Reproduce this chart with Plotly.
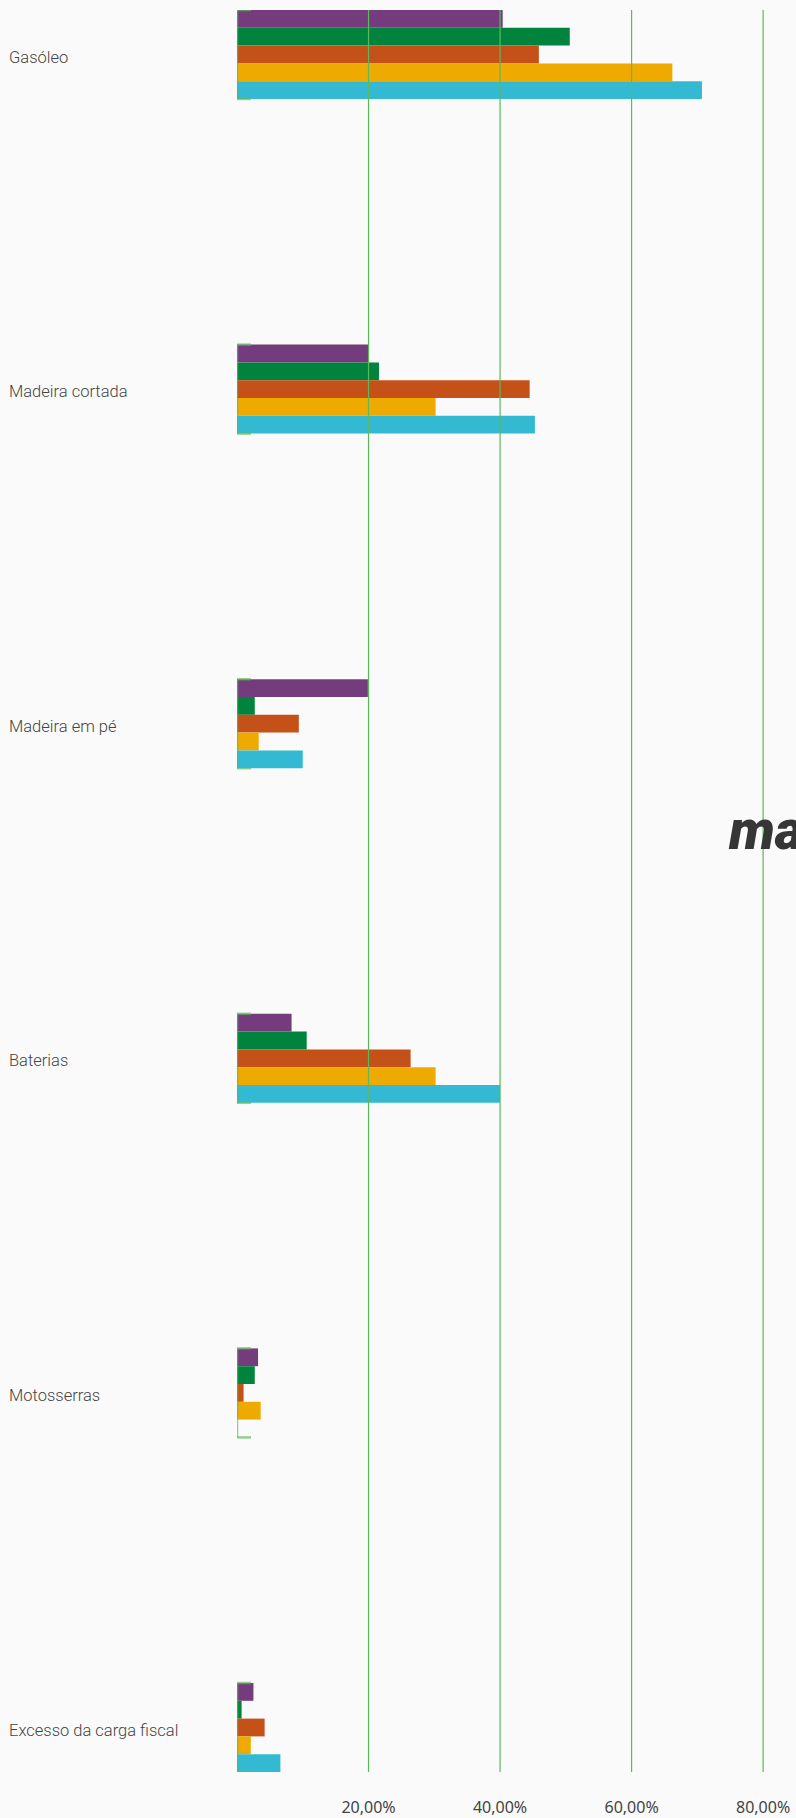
import plotly.graph_objects as go

# Categories (top to bottom) and the five series, values in %
categories = ["Gasóleo", "Madeira cortada", "Madeira em pé", "Baterias", "Motosserras", "Excesso da carga fiscal"]
serie_1 = [40.4, 20.0, 19.9, 8.3, 3.2, 2.5]
serie_2 = [50.6, 21.6, 2.7, 10.6, 2.7, 0.7]
serie_3 = [45.9, 44.5, 9.4, 26.4, 1.0, 4.2]
serie_4 = [66.2, 30.2, 3.3, 30.2, 3.6, 2.1]
serie_5 = [70.7, 45.3, 10.0, 40.0, 0.0, 6.6]
series = [serie_1, serie_2, serie_3, serie_4, serie_5]
colors = ["#743c7c", "#00843d", "#c45117", "#eeaa00", "#33bad2"]

tick_vals = [20, 40, 60, 80]
tick_text = ["20,00%", "40,00%", "60,00%", "80,00%"]

BARGAP = 0.734
half_group = (1 - BARGAP) / 2
n = len(categories)

fig = go.Figure()
for vals, col in zip(series, colors):
    fig.add_trace(go.Bar(
        x=vals, y=categories, orientation="h",
        marker=dict(color=col, line=dict(width=0)),
        hoverinfo="skip",
    ))

shapes = []
# vertical grid lines drawn over the bars
for tv in tick_vals:
    shapes.append(dict(type="line", xref="x", yref="paper", x0=tv, x1=tv, y0=0, y1=1,
                       line=dict(color="#5db95d", width=1.2), layer="above"))
# bracket at the baseline of each group
br = dict(color="rgba(92,184,92,0.65)", width=2.5)
for i in range(n):
    y0, y1 = i - half_group, i + half_group
    shapes.append(dict(type="line", xref="x", yref="y", x0=0, x1=0, y0=y0, y1=y1,
                       line=br, layer="above"))
    for yy in (y0, y1):
        shapes.append(dict(type="line", xref="x", yref="y", xsizemode="pixel", xanchor=0,
                           x0=0, x1=14, y0=yy, y1=yy, line=br, layer="above"))

annotations = []
for cat in categories:
    annotations.append(dict(
        text=cat, xref="paper", yref="y", x=-230 / 559, y=cat, yshift=-2.5,
        xanchor="left", yanchor="middle", showarrow=False,
        font=dict(family="Roboto, sans-serif", size=16.5, color="#444444", weight=300),
    ))
annotations.append(dict(
    text="ma", xref="paper", yref="paper", x=0.874, y=0.5345,
    xanchor="left", yanchor="middle", showarrow=False,
    font=dict(family="Roboto, sans-serif", size=55, color="#363636",
              weight=900, style="italic"),
))

fig.update_layout(
    width=796, height=1818,
    margin=dict(l=237, r=0, t=10, b=46),
    paper_bgcolor="#fafafa", plot_bgcolor="#fafafa",
    barmode="group", bargap=BARGAP, bargroupgap=0,
    showlegend=False,
    shapes=shapes, annotations=annotations,
    xaxis=dict(range=[0, 85], tickvals=tick_vals, ticktext=tick_text,
               showgrid=False, zeroline=False, showline=False, ticks="",
               ticklabelstandoff=24, automargin=False,
               tickfont=dict(family="Noto Sans, sans-serif", size=16, color="#444444")),
    yaxis=dict(range=[n - 1 + half_group, -half_group], showticklabels=False,
               showgrid=False, zeroline=False, showline=False, ticks="",
               automargin=False),
)

fig.write_html("out.html")
